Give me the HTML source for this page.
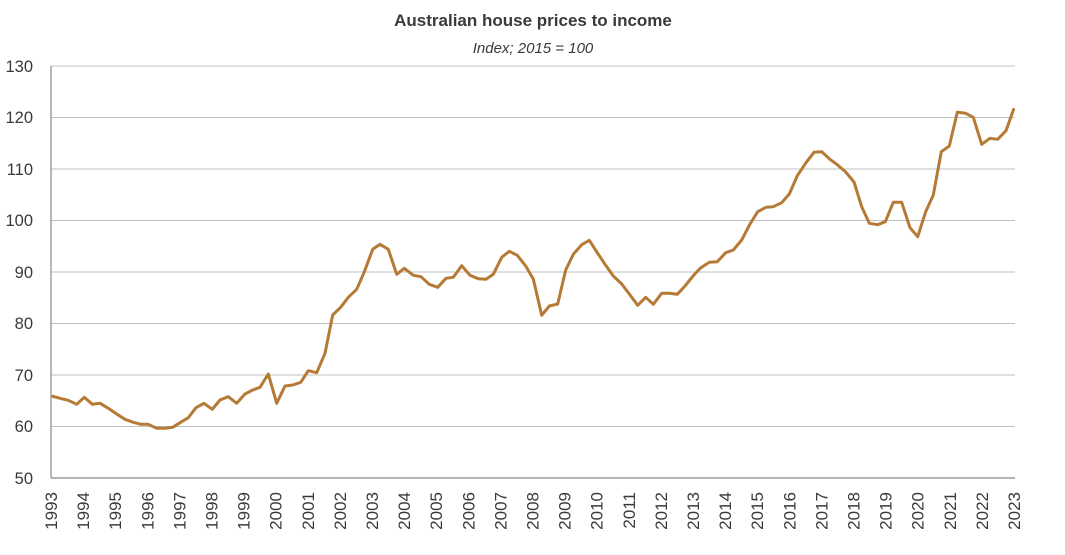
<!DOCTYPE html>
<html><head><meta charset="utf-8"><style>
html,body{margin:0;padding:0;background:#fff;}
svg{display:block;font-family:"Liberation Sans",sans-serif;}
</style></head><body>
<svg width="1065" height="555" viewBox="0 0 1065 555" xmlns="http://www.w3.org/2000/svg">
<text x="533" y="26" text-anchor="middle" font-size="17" font-weight="bold" fill="#3a3a3a">Australian house prices to income</text>
<text x="533" y="53" text-anchor="middle" font-size="15" font-style="italic" fill="#3a3a3a">Index; 2015 = 100</text>
<g stroke="#c0c0c0" stroke-width="1">
<line x1="51" y1="66" x2="1015" y2="66"/>
<line x1="51" y1="117.5" x2="1015" y2="117.5"/>
<line x1="51" y1="169" x2="1015" y2="169"/>
<line x1="51" y1="220.5" x2="1015" y2="220.5"/>
<line x1="51" y1="272" x2="1015" y2="272"/>
<line x1="51" y1="323.5" x2="1015" y2="323.5"/>
<line x1="51" y1="375" x2="1015" y2="375"/>
<line x1="51" y1="426.5" x2="1015" y2="426.5"/>
</g>
<g stroke="#888" stroke-width="1.2">
<line x1="51" y1="66" x2="51" y2="478"/>
<line x1="51" y1="478" x2="1015" y2="478"/>
</g>
<g font-size="16.5" fill="#3a3a3a" text-anchor="end">
<text x="33" y="72">130</text><text x="33" y="123">120</text><text x="33" y="175">110</text>
<text x="33" y="226">100</text><text x="33" y="278">90</text><text x="33" y="329">80</text>
<text x="33" y="381">70</text><text x="33" y="432">60</text><text x="33" y="484">50</text>
</g>
<polyline fill="none" stroke="#b57a36" stroke-width="3" stroke-linejoin="round" points="51.7,396 60,398.3 68.3,400.3 76.7,404.3 84.3,397.3 92.3,404.3 100,403.3 108.3,408.3 116.7,414 125,419.3 133.3,422.3 141,424.3 148.3,424.3 156.7,428.3 165,428.3 172.7,427.3 180,422.7 188.3,417.7 196,407.7 204,403.3 212.3,409.3 220,400 228.3,396.7 236.7,403.3 245,394 252.7,390 260,387.3 268.3,374 276.7,403.3 285,386 292.7,385 300.7,382.3 308.3,370.7 316.7,372.7 325,353.3 332.7,315 340.7,307.3 348.3,297.3 356.7,289.3 364,272.7 372.7,249.3 380,244.3 388.3,249.3 396.7,274.3 404.3,268.3 413.3,275.3 421,276.7 429.3,284.3 437.7,287.3 446,278.3 453.3,277.3 461.7,265.7 470,275.3 478.3,278.7 486,279.3 493.3,274.3 501.7,257.3 509.3,251.3 517.3,255.3 525.7,266 533.3,279 541.7,315.3 549.3,306 557.7,304 565.7,270 573.3,254.3 581.7,244.7 589.3,240.3 597.3,252.7 605.7,265.3 613.3,276 621.7,284 629.3,294 637.7,305.3 645.7,297.3 653.3,304.3 661.7,293.3 669.3,293.3 677.3,294.3 685,286 693.3,275.7 700.5,268 709.3,262.3 717.3,261.7 725.7,252.7 733.3,250 741.7,240 750,224 757.7,211.7 766,207.3 773.3,206.7 781.7,202.7 789.3,194 797.3,175.7 806,162.7 814,152.3 821.7,151.7 830,159.3 837.3,164.7 845.7,172 854,182 861.7,206.7 869.3,223.3 877.7,224.7 885.3,221.7 893.3,202.3 901.7,202.3 910,227.7 917.7,236.7 925.7,211.7 933.3,195 941.3,151.7 949.3,146 957.3,112.3 965.7,113.3 973.3,117.3 981.7,144.3 990,138.3 997.7,139.3 1006,130.7 1014,108.3"/>
<g font-size="17" fill="#3a3a3a" text-anchor="end">
<text transform="translate(57,492) rotate(-90)">1993</text>
<text transform="translate(89.1,492) rotate(-90)">1994</text>
<text transform="translate(121.2,492) rotate(-90)">1995</text>
<text transform="translate(153.3,492) rotate(-90)">1996</text>
<text transform="translate(185.4,492) rotate(-90)">1997</text>
<text transform="translate(217.5,492) rotate(-90)">1998</text>
<text transform="translate(249.6,492) rotate(-90)">1999</text>
<text transform="translate(281.7,492) rotate(-90)">2000</text>
<text transform="translate(313.8,492) rotate(-90)">2001</text>
<text transform="translate(345.9,492) rotate(-90)">2002</text>
<text transform="translate(378,492) rotate(-90)">2003</text>
<text transform="translate(410.1,492) rotate(-90)">2004</text>
<text transform="translate(442.2,492) rotate(-90)">2005</text>
<text transform="translate(474.3,492) rotate(-90)">2006</text>
<text transform="translate(506.4,492) rotate(-90)">2007</text>
<text transform="translate(538.5,492) rotate(-90)">2008</text>
<text transform="translate(570.6,492) rotate(-90)">2009</text>
<text transform="translate(602.7,492) rotate(-90)">2010</text>
<text transform="translate(634.8,492) rotate(-90)">2011</text>
<text transform="translate(666.9,492) rotate(-90)">2012</text>
<text transform="translate(699,492) rotate(-90)">2013</text>
<text transform="translate(731.1,492) rotate(-90)">2014</text>
<text transform="translate(763.2,492) rotate(-90)">2015</text>
<text transform="translate(795.3,492) rotate(-90)">2016</text>
<text transform="translate(827.4,492) rotate(-90)">2017</text>
<text transform="translate(859.5,492) rotate(-90)">2018</text>
<text transform="translate(891.6,492) rotate(-90)">2019</text>
<text transform="translate(923.7,492) rotate(-90)">2020</text>
<text transform="translate(955.8,492) rotate(-90)">2021</text>
<text transform="translate(987.9,492) rotate(-90)">2022</text>
<text transform="translate(1020,492) rotate(-90)">2023</text>
</g>
</svg>
</body></html>
